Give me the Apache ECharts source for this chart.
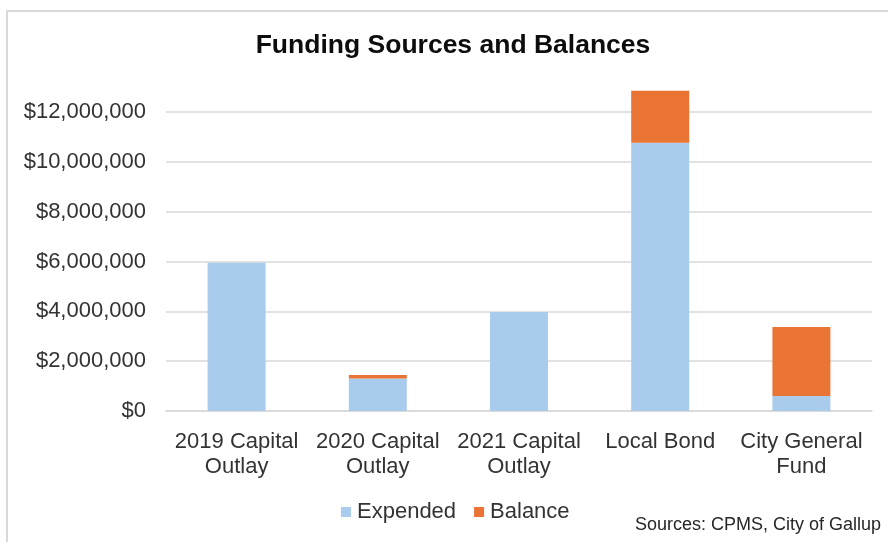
<!DOCTYPE html>
<html>
<head>
<meta charset="utf-8">
<title>Funding Sources and Balances</title>
<script src="https://cdn.jsdelivr.net/npm/echarts@6/dist/echarts.min.js"></script>
<style>
  html, body { margin: 0; padding: 0; background: #fff; }
  #chart { width: 888px; height: 542px; }
</style>
</head>
<body>
<div id="chart"></div>
<script>
// data
var categories = ['2019 Capital\nOutlay', '2020 Capital\nOutlay', '2021 Capital\nOutlay', 'Local Bond', 'City General\nFund'];
var expended = [5950000, 1300000, 3970000, 10760000, 600000];
var balance = [0, 140000, 0, 2090000, 2770000];
var seriesNames = ['Expended', 'Balance'];
var titleText = 'Funding Sources and Balances';
var sourceText = 'Sources: CPMS, City of Gallup';

var font = 'Arial, "Liberation Sans", sans-serif';
var labelColor = '#333';

var myChart = echarts.init(document.getElementById('chart'));

// money labels like $12,000,000
function money(v) {
  return '$' + String(v).replace(/\B(?=(\d{3})+(?!\d))/g, ',');
}

var option = {
  animation: false,
  color: ['#a9cbec', '#e97434'],
  graphic: [
    // outer chart frame (only left and top edges are in view)
    {
      type: 'rect',
      shape: { x: 7, y: 11, width: 950, height: 600 },
      style: { fill: 'none', stroke: '#d9d9d9', lineWidth: 2 },
      silent: true
    },
    {
      type: 'text',
      x: 453, y: 46,
      style: {
        text: titleText,
        fontFamily: font, fontSize: 26.5, fontWeight: 'bold',
        fill: '#0d0d0d', align: 'center', verticalAlign: 'middle'
      }
    },
    {
      type: 'text',
      x: 881, y: 525,
      style: {
        text: sourceText,
        fontFamily: font, fontSize: 18,
        fill: '#262626', align: 'right', verticalAlign: 'middle'
      }
    }
  ],
  grid: {
    left: 166,
    right: 16,
    top: 87,
    bottom: 131
  },
  legend: {
    data: seriesNames,
    left: 336,
    top: 496,
    icon: 'rect',
    itemWidth: 10,
    itemHeight: 10,
    itemGap: 18,
    textStyle: { fontFamily: font, fontSize: 22, color: labelColor, padding: [0, 0, 0, 1] }
  },
  xAxis: {
    type: 'category',
    data: categories,
    axisTick: { show: false },
    axisLine: { lineStyle: { color: '#d9d9d9', width: 1.5 } },
    axisLabel: {
      interval: 0,
      margin: 18,
      fontFamily: font,
      fontSize: 22,
      lineHeight: 25,
      color: labelColor
    }
  },
  yAxis: {
    type: 'value',
    min: 0,
    max: 13000000,
    interval: 2000000,
    axisLine: { show: false },
    axisTick: { show: false },
    splitLine: { showMaxLine: false, lineStyle: { color: '#d9d9d9', width: 1.5 } },
    axisLabel: {
      showMaxLabel: false,
      margin: 20,
      fontFamily: font,
      fontSize: 22,
      color: labelColor,
      formatter: money
    }
  },
  series: [
    {
      name: seriesNames[0],
      type: 'bar',
      stack: 'total',
      barWidth: 58,
      data: expended
    },
    {
      name: seriesNames[1],
      type: 'bar',
      stack: 'total',
      barWidth: 58,
      data: balance
    }
  ]
};

myChart.setOption(option);
</script>
</body>
</html>
